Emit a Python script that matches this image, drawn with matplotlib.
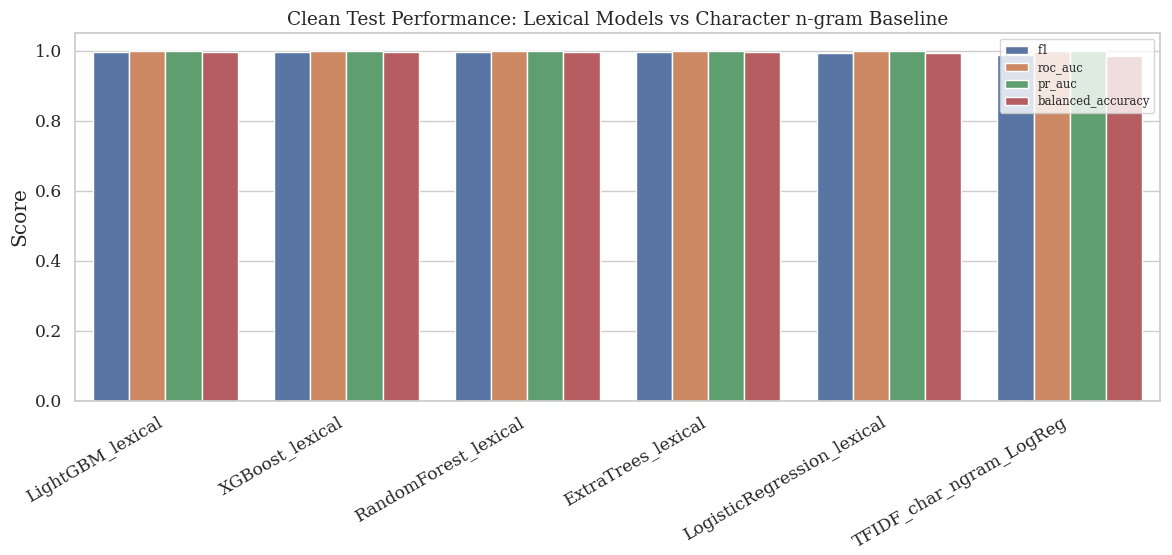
import pandas as pd
import matplotlib
matplotlib.use("Agg")
import matplotlib.pyplot as plt
import seaborn as sns

models = ["LightGBM_lexical", "XGBoost_lexical", "RandomForest_lexical",
          "ExtraTrees_lexical", "LogisticRegression_lexical", "TFIDF_char_ngram_LogReg"]
metrics = ["f1", "roc_auc", "pr_auc", "balanced_accuracy"]
f1 = [0.997, 0.997, 0.997, 0.997, 0.994, 0.988]
roc_auc = [0.9999, 0.9999, 0.9999, 0.9999, 0.9998, 0.999]
pr_auc = [0.9999, 0.9999, 0.9999, 0.9999, 0.9998, 0.999]
balanced_accuracy = [0.997, 0.997, 0.997, 0.997, 0.994, 0.986]

rows = []
for name, vals in zip(metrics, [f1, roc_auc, pr_auc, balanced_accuracy]):
    for m, v in zip(models, vals):
        rows.append({"model": m, "metric": name, "score": v})
df = pd.DataFrame(rows)

sns.set_theme(style="whitegrid")
plt.rcParams["font.family"] = ["DejaVu Serif"]

fig, ax = plt.subplots(figsize=(11.72, 5.55), dpi=100)
sns.barplot(data=df, x="model", y="score", hue="metric", ax=ax)
ax.set_title("Clean Test Performance: Lexical Models vs Character n-gram Baseline", fontsize=13.3)
ax.set_xlabel("")
ax.set_ylabel("Score", fontsize=14.5)
ax.tick_params(axis="y", labelsize=12.3)
ax.tick_params(axis="x", labelsize=12.3)
plt.setp(ax.get_xticklabels(), rotation=30, ha="right")
ax.legend(loc="upper right", fontsize=8.4, labelspacing=0.35)
fig.subplots_adjust(left=0.064, right=0.99, top=0.94, bottom=0.278)
fig.savefig("out.png", dpi=100)
